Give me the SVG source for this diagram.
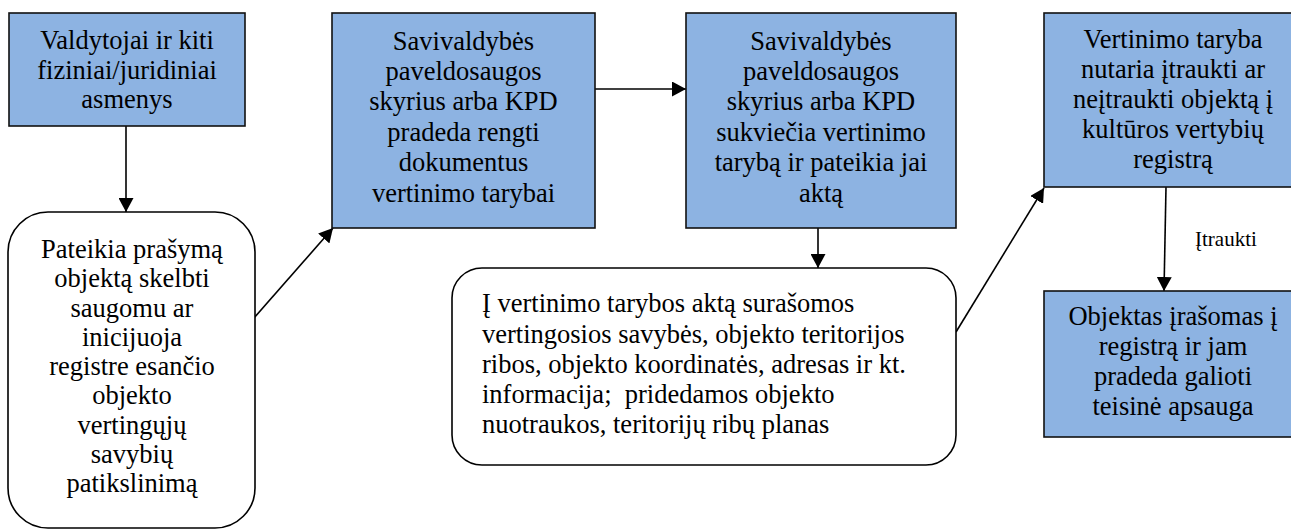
<svg xmlns="http://www.w3.org/2000/svg" width="1291" height="529" viewBox="0 0 1291 529">
<defs>
<marker id="arr" markerUnits="userSpaceOnUse" markerWidth="15" markerHeight="15" refX="14" refY="7.5" orient="auto">
<path d="M0,0 L14,7.5 L0,15 z" fill="#000"/>
</marker>
<style>
.box{fill:#8DB3E2;stroke:#111;stroke-width:1.6}
.rbox{fill:#fff;stroke:#000;stroke-width:1.6}
.t{font-size:26.5px;fill:#000}
.c{text-anchor:middle}
.lbl{font-size:21px;fill:#000}
.ln{stroke:#000;stroke-width:1.6;fill:none;marker-end:url(#arr)}
</style>
</defs>
<rect width="1291" height="529" fill="#fff"/>
<g font-family="Liberation Serif, Times New Roman, serif">
<g id="connectors">
<line class="ln" x1="126" y1="126" x2="126" y2="212"/>
<line class="ln" x1="254" y1="318" x2="333" y2="228"/>
<line class="ln" x1="595" y1="89" x2="686" y2="89"/>
<line class="ln" x1="818" y1="228" x2="818" y2="268"/>
<line class="ln" x1="956" y1="332" x2="1044" y2="188"/>
<line class="ln" x1="1166" y1="187" x2="1164" y2="291"/>
<text class="lbl" x="1195" y="246">Įtraukti</text>
</g>
<g id="n1">
<rect class="box" x="9" y="13" width="236" height="113"/>
<text class="t c" x="127" y="49">Valdytojai ir kiti</text>
<text class="t c" x="127" y="78.5">fiziniai/juridiniai</text>
<text class="t c" x="127" y="108">asmenys</text>
</g>
<g id="n2">
<rect class="rbox" x="8" y="212" width="247" height="316" rx="40" ry="40"/>
<text class="t c" x="132" y="258">Pateikia prašymą</text>
<text class="t c" x="132" y="287.25">objektą skelbti</text>
<text class="t c" x="132" y="316.5">saugomu ar</text>
<text class="t c" x="132" y="345.75">inicijuoja</text>
<text class="t c" x="132" y="375">registre esančio</text>
<text class="t c" x="132" y="404.25">objekto</text>
<text class="t c" x="132" y="433.5">vertingųjų</text>
<text class="t c" x="132" y="462.75">savybių</text>
<text class="t c" x="132" y="492">patikslinimą</text>
</g>
<g id="n3">
<rect class="box" x="332" y="13" width="263" height="215"/>
<text class="t c" x="463.5" y="49.5">Savivaldybės</text>
<text class="t c" x="463.5" y="79.9">paveldosaugos</text>
<text class="t c" x="463.5" y="110.3">skyrius arba KPD</text>
<text class="t c" x="463.5" y="140.7">pradeda rengti</text>
<text class="t c" x="463.5" y="171.1">dokumentus</text>
<text class="t c" x="463.5" y="201.5">vertinimo tarybai</text>
</g>
<g id="n4">
<rect class="box" x="686" y="13" width="270" height="215"/>
<text class="t c" x="821" y="49.5">Savivaldybės</text>
<text class="t c" x="821" y="79.9">paveldosaugos</text>
<text class="t c" x="821" y="110.3">skyrius arba KPD</text>
<text class="t c" x="821" y="140.7">sukviečia vertinimo</text>
<text class="t c" x="821" y="171.1">tarybą ir pateikia jai</text>
<text class="t c" x="821" y="201.5">aktą</text>
</g>
<g id="n5">
<rect class="rbox" x="452" y="268" width="504" height="197" rx="30" ry="30"/>
<text class="t" x="482" y="312">Į vertinimo tarybos aktą surašomos</text>
<text class="t" x="482" y="342.5">vertingosios savybės, objekto teritorijos</text>
<text class="t" x="482" y="373">ribos, objekto koordinatės, adresas ir kt.</text>
<text class="t" x="482" y="403" xml:space="preserve">informacija;  pridedamos objekto</text>
<text class="t" x="482" y="433">nuotraukos, teritorijų ribų planas</text>
</g>
<g id="n6">
<rect class="box" x="1044" y="13" width="260" height="174"/>
<text class="t c" x="1173" y="48.3">Vertinimo taryba</text>
<text class="t c" x="1173" y="78.3">nutaria įtraukti ar</text>
<text class="t c" x="1173" y="108.3">neįtraukti objektą į</text>
<text class="t c" x="1173" y="138.3">kultūros vertybių</text>
<text class="t c" x="1173" y="168.3">registrą</text>
</g>
<g id="n7">
<rect class="box" x="1044" y="291" width="260" height="146"/>
<text class="t c" x="1173" y="325">Objektas įrašomas į</text>
<text class="t c" x="1173" y="355">registrą ir jam</text>
<text class="t c" x="1173" y="385">pradeda galioti</text>
<text class="t c" x="1173" y="415">teisinė apsauga</text>
</g>
</g>
</svg>
